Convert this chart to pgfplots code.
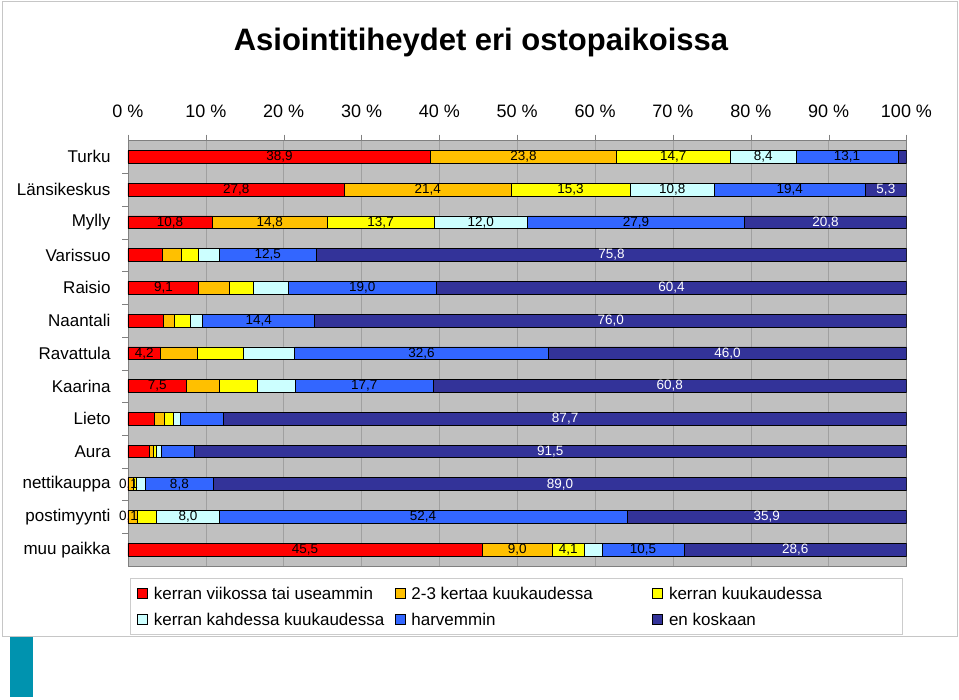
\documentclass[border=0pt]{standalone}
\usepackage{pgfplots}
\usepackage{pgfplotstable}
\pgfplotsset{compat=1.18}
\usepackage{fontspec}
\setmainfont{Liberation Sans}

\definecolor{cRed}{HTML}{FF0000}
\definecolor{cOrange}{HTML}{FFC000}
\definecolor{cYellow}{HTML}{FFFF00}
\definecolor{cCyan}{HTML}{CCFFFF}
\definecolor{cBlue}{HTML}{3366FF}
\definecolor{cNavy}{HTML}{333399}
\definecolor{plotbg}{HTML}{C0C0C0}
\definecolor{gridc}{HTML}{A0A0A0}
\definecolor{deco}{HTML}{0093AF}

% shares in %, rows Turku ... muu paikka; l* = shown data labels
\pgfplotstableread{
r o y c b n lr lo ly lc lb ln
38.9 23.8 14.7 8.4 13.1 1.1 38,9 23,8 14,7 8,4 13,1 {}
27.8 21.4 15.3 10.8 19.4 5.3 27,8 21,4 15,3 10,8 19,4 5,3
10.8 14.8 13.7 12.0 27.9 20.8 10,8 14,8 13,7 12,0 27,9 20,8
4.4 2.5 2.1 2.7 12.5 75.8 {} {} {} {} 12,5 75,8
9.1 3.9 3.1 4.5 19.0 60.4 9,1 {} {} {} 19,0 60,4
4.5 1.5 2.0 1.6 14.4 76.0 {} {} {} {} 14,4 76,0
4.2 4.7 5.9 6.6 32.6 46.0 4,2 {} {} {} 32,6 46,0
7.5 4.2 4.9 4.9 17.7 60.8 7,5 {} {} {} 17,7 60,8
3.4 1.3 1.1 0.9 5.6 87.7 {} {} {} {} {} 87,7
2.8 0.4 0.5 0.6 4.2 91.5 {} {} {} {} {} 91,5
0.1 0.6 0.4 1.1 8.8 89.0 0,1 {} {} {} 8,8 89,0
0.1 1.1 2.5 8.0 52.4 35.9 0,1 {} {} 8,0 52,4 35,9
45.5 9.0 4.1 2.3 10.5 28.6 45,5 9,0 4,1 {} 10,5 28,6
}\data

\pgfplotsset{
  seg/.style 2 args={fill=#1, draw=black, line width=0.7pt,
    nodes near coords, point meta=explicit symbolic,
    every node near coord/.append style={anchor=center, text=#2,
      font=\fontsize{13.5}{14}\selectfont, inner sep=0pt}},
}

\begin{document}
\begin{tikzpicture}
\path[use as bounding box] (0pt,0pt) rectangle (959pt,-700pt);
\draw[draw=gray!45, fill=white] (2pt,-1pt) rectangle (957pt,-636pt);
\fill[deco] (10pt,-637pt) rectangle (33pt,-697pt);
\node[font=\bfseries\fontsize{31}{36}\selectfont] at (481pt,-42pt) {Asiointitiheydet eri ostopaikoissa};

\begin{axis}[
  at={(128pt,-140.5pt)}, anchor=north west,
  width=778.5pt, height=425.5pt, scale only axis,
  xbar stacked, bar width=12.7pt,
  xmin=0, xmax=100, ymin=-0.5, ymax=12.5, y dir=reverse,
  enlargelimits=false,
  axis background/.style={fill=plotbg},
  axis line style={draw=gray},
  xtick={0,10,...,100},
  xticklabels={0 \%,10 \%,20 \%,30 \%,40 \%,50 \%,60 \%,70 \%,80 \%,90 \%,100 \%},
  xticklabel pos=upper, xtick pos=upper,
  xticklabel style={font=\fontsize{18}{20}\selectfont, yshift=13pt},
  xmajorgrids, grid style={draw=gridc, line width=0.6pt},
  ytick={0,...,12},
  yticklabels={Turku,Länsikeskus,Mylly,Varissuo,Raisio,Naantali,Ravattula,Kaarina,Lieto,Aura,nettikauppa,postimyynti,muu paikka},
  yticklabel style={font=\fontsize{17}{20}\selectfont, anchor=east, xshift=-8pt},
  ytick pos=left,
  minor ytick={0.5,1.5,...,11.5},
  major y tick style={draw=none},
  minor y tick style={draw=gray},
  x tick style={draw=gray},
  tick align=outside, major tick length=6pt, minor tick length=6pt,
  legend image code/.code={\draw[#1, line width=0.6pt] (0pt,-5pt) rectangle (10pt,5pt);},
  legend columns=3,
  legend style={at={(0.0026,-0.028)}, anchor=north west, draw=gray!40, fill=white,
    font=\fontsize{17}{20}\selectfont, inner xsep=7pt, inner ysep=5pt,
    nodes={inner xsep=3pt, inner ysep=2pt, text height=14pt, text depth=2pt},
    /tikz/every odd column/.append style={column sep=3pt},
    /tikz/row sep=6pt},
]
\addplot[seg={cRed}{black}] table[x=r, y expr=\coordindex, meta=lr] {\data};
\addlegendentry{\makebox[238pt][l]{kerran viikossa tai useammin}}
\addplot[seg={cOrange}{black}] table[x=o, y expr=\coordindex, meta=lo] {\data};
\addlegendentry{\makebox[238pt][l]{2-3 kertaa kuukaudessa}}
\addplot[seg={cYellow}{black}] table[x=y, y expr=\coordindex, meta=ly] {\data};
\addlegendentry{\makebox[223pt][l]{kerran kuukaudessa}}
\addplot[seg={cCyan}{black}] table[x=c, y expr=\coordindex, meta=lc] {\data};
\addlegendentry{\makebox[238pt][l]{kerran kahdessa kuukaudessa}}
\addplot[seg={cBlue}{black}] table[x=b, y expr=\coordindex, meta=lb] {\data};
\addlegendentry{\makebox[238pt][l]{harvemmin}}
\addplot[seg={cNavy}{white}] table[x=n, y expr=\coordindex, meta=ln] {\data};
\addlegendentry{\makebox[223pt][l]{en koskaan}}
\end{axis}
\end{tikzpicture}
\end{document}
